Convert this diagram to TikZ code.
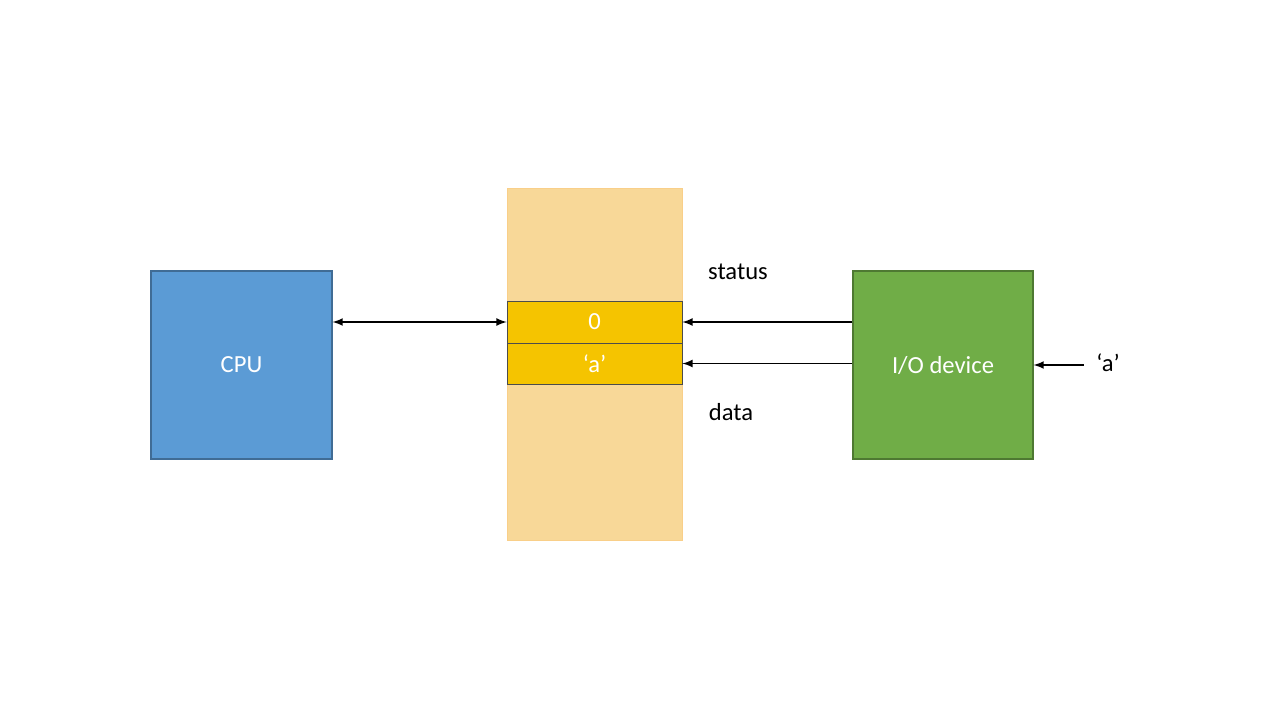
\documentclass[tikz,border=0pt]{standalone}
\usepackage{fontspec}
\setmainfont{Carlito}
\begin{document}
\begin{tikzpicture}[x=0.02cm,y=-0.02cm,
  box/.style={draw=#1!70!black, line width=0.6pt},
  lbl/.style={font=\fontsize{14}{16}\selectfont},
  arr/.style={-latex, line width=1pt}]
\definecolor{cpu}{HTML}{5B9BD5}
\definecolor{io}{HTML}{70AD47}
\definecolor{mem}{HTML}{F8D898}
\definecolor{cell}{HTML}{F5C400}
\useasboundingbox (0,0) rectangle (1280,720);
\fill[white] (0,0) rectangle (1280,720);
\node[box=cpu, fill=cpu, minimum width=181*0.02cm, minimum height=188*0.02cm, text=white, lbl] (cpu) at (241.5,365) {CPU};
\node[fill=mem, draw=mem!90!orange, minimum width=175*0.02cm, minimum height=352*0.02cm, inner sep=0] (mem) at (594.5,364) {};
\node[draw=black!70, fill=cell, minimum width=175*0.02cm, minimum height=42*0.02cm, text=white, lbl, inner sep=0] (c0) at (594.5,322) {0};
\node[draw=black!70, fill=cell, minimum width=175*0.02cm, minimum height=41*0.02cm, text=white, lbl, inner sep=0] (c1) at (594.5,363.5) {‘a’};
\node[box=io, fill=io, minimum width=180*0.02cm, minimum height=188*0.02cm, text=white, lbl] (io) at (943,365) {I/O device};
\node[lbl] (st) at (738,272) {status};
\node[lbl] (dt) at (731,412) {data};
\node[lbl, inner sep=2pt, outer sep=5pt] (ain) at (1108,363) {‘a’};
\draw[arr, latex-latex] (cpu.east |- c0.west) -- (c0.west);
\draw[arr] (io.west |- c0.east) -- (c0.east);
\draw[arr] (io.west |- c1.east) -- (c1.east);
\draw[arr] (ain.west |- io.east) -- (io.east);
\end{tikzpicture}
\end{document}
